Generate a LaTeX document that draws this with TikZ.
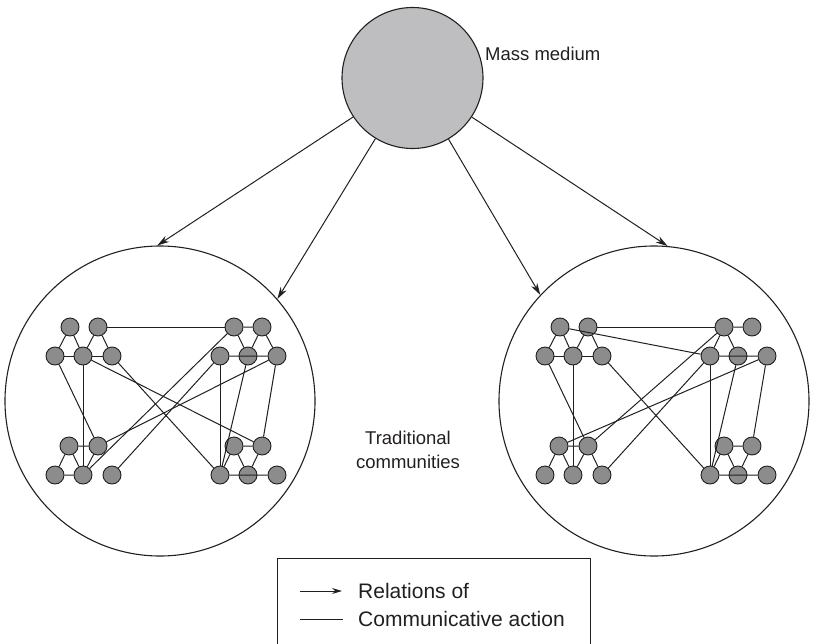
\documentclass[tikz,border=0pt]{standalone}
\usepackage{fontspec}
\setmainfont{Liberation Sans}
\usetikzlibrary{arrows.meta}

\definecolor{inkgray}{RGB}{35,31,32}
\definecolor{mediumfill}{RGB}{190,190,192}
\definecolor{memberfill}{RGB}{140,140,140}

\begin{document}
\begin{tikzpicture}[x=1pt, y=-1pt, color=inkgray,
  member/.style={circle, draw=inkgray, fill=memberfill, minimum size=18pt, inner sep=0pt, line width=0.9pt},
  community/.style={circle, draw=inkgray, minimum size=310pt, inner sep=0pt, line width=1.1pt},
  medium/.style={circle, draw=inkgray, fill=mediumfill, minimum size=141pt, inner sep=0pt, line width=1.1pt},
  tie/.style={line width=1pt},
  relation/.style={-{Stealth[length=12pt,width=7pt]}, line width=1pt},
  caption/.style={font=\fontsize{18.5}{24}\selectfont, inner sep=0pt},
  keytext/.style={font=\fontsize{21}{24}\selectfont, inner sep=0pt, anchor=west}]
\useasboundingbox (0,0) rectangle (814,643);

% mass medium and the two communities
\node[medium] (medium) at (412.5,78) {};
\node[caption, anchor=base west] (mediumtext) at (485,60) {Mass medium};
\node[community] (left) at (160,401) {};
\node[community] (right) at (654,401) {};
\node[caption, align=center] (commtext) at (408,450) {Traditional\\communities};

\draw[relation] (medium) -- (left.91);
\draw[relation] (medium) -- (left.41);
\draw[relation] (medium) -- (right.137);
\draw[relation] (medium) -- (right.85);

% members, same layout in both communities
\foreach \p/\dx in {l/0, r/490} {
  \begin{scope}[xshift=\dx]
  \node[member] (\p a1) at (70,327) {};
  \node[member] (\p a2) at (98,327) {};
  \node[member] (\p b1) at (55,356) {};
  \node[member] (\p b2) at (83,356) {};
  \node[member] (\p b3) at (112,356) {};
  \node[member] (\p c1) at (234,327) {};
  \node[member] (\p c2) at (262,327) {};
  \node[member] (\p d1) at (220,356) {};
  \node[member] (\p d2) at (248,356) {};
  \node[member] (\p d3) at (277,356) {};
  \node[member] (\p e1) at (69,446) {};
  \node[member] (\p e2) at (98,446) {};
  \node[member] (\p f1) at (55,475) {};
  \node[member] (\p f2) at (83,475) {};
  \node[member] (\p f3) at (112,475) {};
  \node[member] (\p g1) at (234,446) {};
  \node[member] (\p g2) at (262,446) {};
  \node[member] (\p h1) at (220,475) {};
  \node[member] (\p h2) at (248,475) {};
  \node[member] (\p h3) at (277,475) {};
  \end{scope}
}

% left community
\draw[tie] (la1) -- (lb1) (la1) -- (lb2) (la2) -- (lb2) (la2) -- (lb3);
\draw[tie] (lb1) -- (lb2) (lb2) -- (lb3);
\draw[tie] (lc1) -- (lc2) (lc1) -- (ld2) (lc2) -- (ld2) (lc2) -- (ld3) (ld1) -- (ld3);
\draw[tie] (le1) -- (le2) (le1) -- (lf1) (le1) -- (lf2) (le2) -- (lf2) (lf1) -- (lf2);
\draw[tie] (lg1) -- (lg2) (lg1) -- (lh2) (lg2) -- (lh2) (lg1) -- (lh1) (lh1) -- (lh3);
\draw[tie] (la2) -- (lc1);
\draw[tie] (lb1) -- (le2);
\draw[tie] (lb2) -- (lf2);
\draw[tie] (lb2) -- (lg2);
\draw[tie] (lb3) -- (lh1);
\draw[tie] (lc1) -- (lf2);
\draw[tie] (ld1) -- (lf3);
\draw[tie] (ld3) -- (le2);
\draw[tie] (ld1) -- (lh1);
\draw[tie] (ld2) -- (lh1);
\draw[tie] (ld3) -- (lg2);

% right community
\draw[tie] (ra1) -- (rb1) (ra1) -- (rb2) (ra2) -- (rb2) (ra2) -- (rb3);
\draw[tie] (rb1) -- (rb2) (rb2) -- (rb3);
\draw[tie] (rc1) -- (rc2) (rc1) -- (rd1) (rc1) -- (rd2) (rd1) -- (rd3);
\draw[tie] (re1) -- (re2) (re1) -- (rf1) (re1) -- (rf2) (re2) -- (rf2) (re2) -- (rf3);
\draw[tie] (rg1) -- (rg2) (rg1) -- (rh2) (rg2) -- (rh2) (rg1) -- (rh1) (rh1) -- (rh3);
\draw[tie] (ra1) -- (rd1);
\draw[tie] (ra2) -- (rc1);
\draw[tie] (rc1) -- (re2);
\draw[tie] (rd1) -- (rf3);
\draw[tie] (rd3) -- (re1);
\draw[tie] (rb1) -- (re2);
\draw[tie] (rb2) -- (rf2);
\draw[tie] (rb3) -- (rh1);
\draw[tie] (rd1) -- (rh1);
\draw[tie] (rd2) -- (rh1);
\draw[tie] (rd3) -- (rg2);

% legend
\draw[line width=1pt] (277,558) rectangle (590,660);
\coordinate (arrowfrom) at (300,591);
\coordinate (arrowto) at (342,591);
\coordinate (tiefrom) at (300,619);
\coordinate (tieto) at (343,619);
\draw[relation, -{Stealth[length=10pt,width=6pt]}] (arrowfrom) -- (arrowto);
\draw[tie] (tiefrom) -- (tieto);
\node[keytext] (relationtext) at (358,591) {Relations of};
\node[keytext] (tietext) at (358,619) {Communicative action};
\end{tikzpicture}
\end{document}
